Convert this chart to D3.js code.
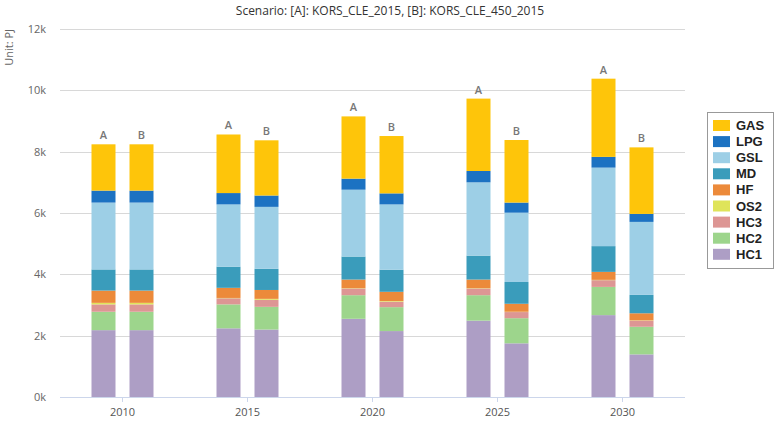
<!DOCTYPE html>
<html>
<head>
<meta charset="utf-8">
<script src="https://cdn.jsdelivr.net/npm/d3@7/dist/d3.min.js"></script>
<style>
  body { margin: 0; background: #fff; }
  svg { display: block; }
</style>
</head>
<body>
<svg id="chart" width="779" height="425"></svg>
<script>
const years = ["2010", "2015", "2020", "2025", "2030"];
const scenarios = ["A", "B"];
const series = ["HC1", "HC2", "HC3", "OS2", "HF", "MD", "GSL", "LPG", "GAS"];
const legendOrder = ["GAS", "LPG", "GSL", "MD", "HF", "OS2", "HC3", "HC2", "HC1"];
const colors = ["#ad9ec5", "#9dd58c", "#dd9694", "#dfe45a", "#ec8a3a", "#3a9cbb", "#9dcfe6", "#1c72c2", "#fec50a"];
const yTicks = [0, 2000, 4000, 6000, 8000, 10000, 12000];
const title = "Scenario: [A]: KORS_CLE_2015, [B]: KORS_CLE_450_2015";
const unitLabel = "Unit: PJ";

// values per bar: order 2010A,2010B,2015A,2015B,2020A,2020B,2025A,2025B,2030A,2030B
const HC1 = [2180, 2180, 2240, 2200, 2550, 2150, 2490, 1750, 2670, 1390];
const HC2 = [600, 600, 780, 740, 770, 780, 830, 820, 920, 900];
const HC3 = [240, 240, 200, 230, 220, 180, 220, 200, 220, 200];
const OS2 = [50, 50, 10, 30, 10, 20, 10, 10, 10, 10];
const HF  = [400, 400, 330, 290, 280, 300, 280, 260, 260, 230];
const MD  = [690, 690, 690, 690, 750, 720, 780, 710, 840, 600];
const GSL = [2180, 2180, 2030, 2020, 2180, 2130, 2390, 2260, 2560, 2380];
const LPG = [390, 390, 370, 370, 360, 360, 370, 330, 350, 260];
const GAS = [1510, 1510, 1910, 1800, 2030, 1870, 2360, 2040, 2550, 2170];
const seriesValues = { HC1, HC2, HC3, OS2, HF, MD, GSL, LPG, GAS };

const rows = [];
years.forEach((yr, i) => {
  scenarios.forEach((sc, j) => {
    const idx = i * 2 + j;
    const r = { year: yr, scen: sc };
    series.forEach(s => r[s] = seriesValues[s][idx]);
    rows.push(r);
  });
});

const svg = d3.select("#chart");
const plotL = 60, plotR = 685, plotT = 29, plotB = 397;

const x0 = d3.scaleBand().domain(years).range([plotL, plotR]).padding(0);
const x1 = d3.scaleBand().domain(scenarios).range([-31, 31]).paddingInner(14 / 38).paddingOuter(0);
const y = d3.scaleLinear().domain([0, 12000]).range([plotB, plotT]);
const color = d3.scaleOrdinal().domain(series).range(colors);

// gridlines
svg.append("g")
  .selectAll("line").data(yTicks.filter(t => t > 0)).join("line")
  .attr("x1", plotL).attr("x2", plotR)
  .attr("y1", d => Math.round(y(d)) + 0.5).attr("y2", d => Math.round(y(d)) + 0.5)
  .attr("stroke", "#d8d8d8").attr("stroke-width", 1);

// y axis labels
const yAxis = d3.axisLeft(y).tickValues(yTicks).tickSize(0).tickPadding(0)
  .tickFormat(d => (d / 1000) + "k");
const gy = svg.append("g").attr("transform", `translate(46,0)`).call(yAxis);
gy.select(".domain").remove();
gy.selectAll("text").attr("fill", "#666").style("font-family", "'Open Sans', sans-serif").style("font-size", "11px");

// stacked bars
const stack = d3.stack().keys(series);
const stacked = stack(rows);

const gBars = svg.append("g");
stacked.forEach(layer => {
  gBars.append("g").attr("fill", color(layer.key))
    .selectAll("rect").data(layer).join("rect")
    .attr("x", d => x0(d.data.year) + x0.bandwidth() / 2 + x1(d.data.scen))
    .attr("width", x1.bandwidth())
    .attr("y", d => y(d[1]))
    .attr("height", d => Math.max(0, y(d[0]) - y(d[1])));
});

// A / B labels
const topLayer = stacked[stacked.length - 1];
svg.append("g").selectAll("text").data(topLayer).join("text")
  .attr("x", d => x0(d.data.year) + x0.bandwidth() / 2 + x1(d.data.scen) + x1.bandwidth() / 2)
  .attr("y", d => y(d[1]) - 5)
  .attr("text-anchor", "middle")
  .attr("fill", "#777")
  .style("font-family", "'Open Sans', sans-serif").style("font-size", "11px").style("font-weight", "600")
  .text(d => d.data.scen);

// x axis
const xAxis = d3.axisBottom(x0).tickSize(5).tickPadding(6);
const gx = svg.append("g").attr("transform", `translate(0,${plotB})`).call(xAxis);
gx.select(".domain").attr("stroke", "#ccd6eb").attr("d", `M${plotL},0.5H${plotR}`);
gx.selectAll(".tick line").attr("stroke", "#ccd6eb");
gx.selectAll("text").attr("fill", "#555").style("font-family", "'Open Sans', sans-serif").style("font-size", "11px");

// title
svg.append("text").attr("x", 390).attr("y", 15).attr("text-anchor", "middle")
  .attr("fill", "#333").style("font-family", "'Open Sans', sans-serif").style("font-size", "12px")
  .text(title);

// unit label
svg.append("text").attr("transform", "translate(13,29) rotate(-90)")
  .attr("text-anchor", "end").attr("fill", "#666")
  .style("font-family", "'Open Sans', sans-serif").style("font-size", "11px")
  .text(unitLabel);

// legend
const lg = svg.append("g").attr("transform", "translate(707,112)");
lg.append("rect").attr("x", 0.5).attr("y", 0.5).attr("width", 66).attr("height", 156)
  .attr("fill", "#fff").attr("stroke", "#999").attr("stroke-width", 1);
const items = lg.selectAll("g.item").data(legendOrder).join("g")
  .attr("class", "item")
  .attr("transform", (d, i) => `translate(0,${13 + i * 16.1})`);
items.append("rect").attr("x", 6).attr("y", -5).attr("width", 17).attr("height", 11)
  .attr("fill", d => color(d));
items.append("text").attr("x", 29).attr("y", 5)
  .attr("fill", "#222").style("font-family", "'Liberation Sans', Arial, sans-serif")
  .style("font-size", "13px").style("font-weight", "bold")
  .text(d => d);
</script>
</body>
</html>
